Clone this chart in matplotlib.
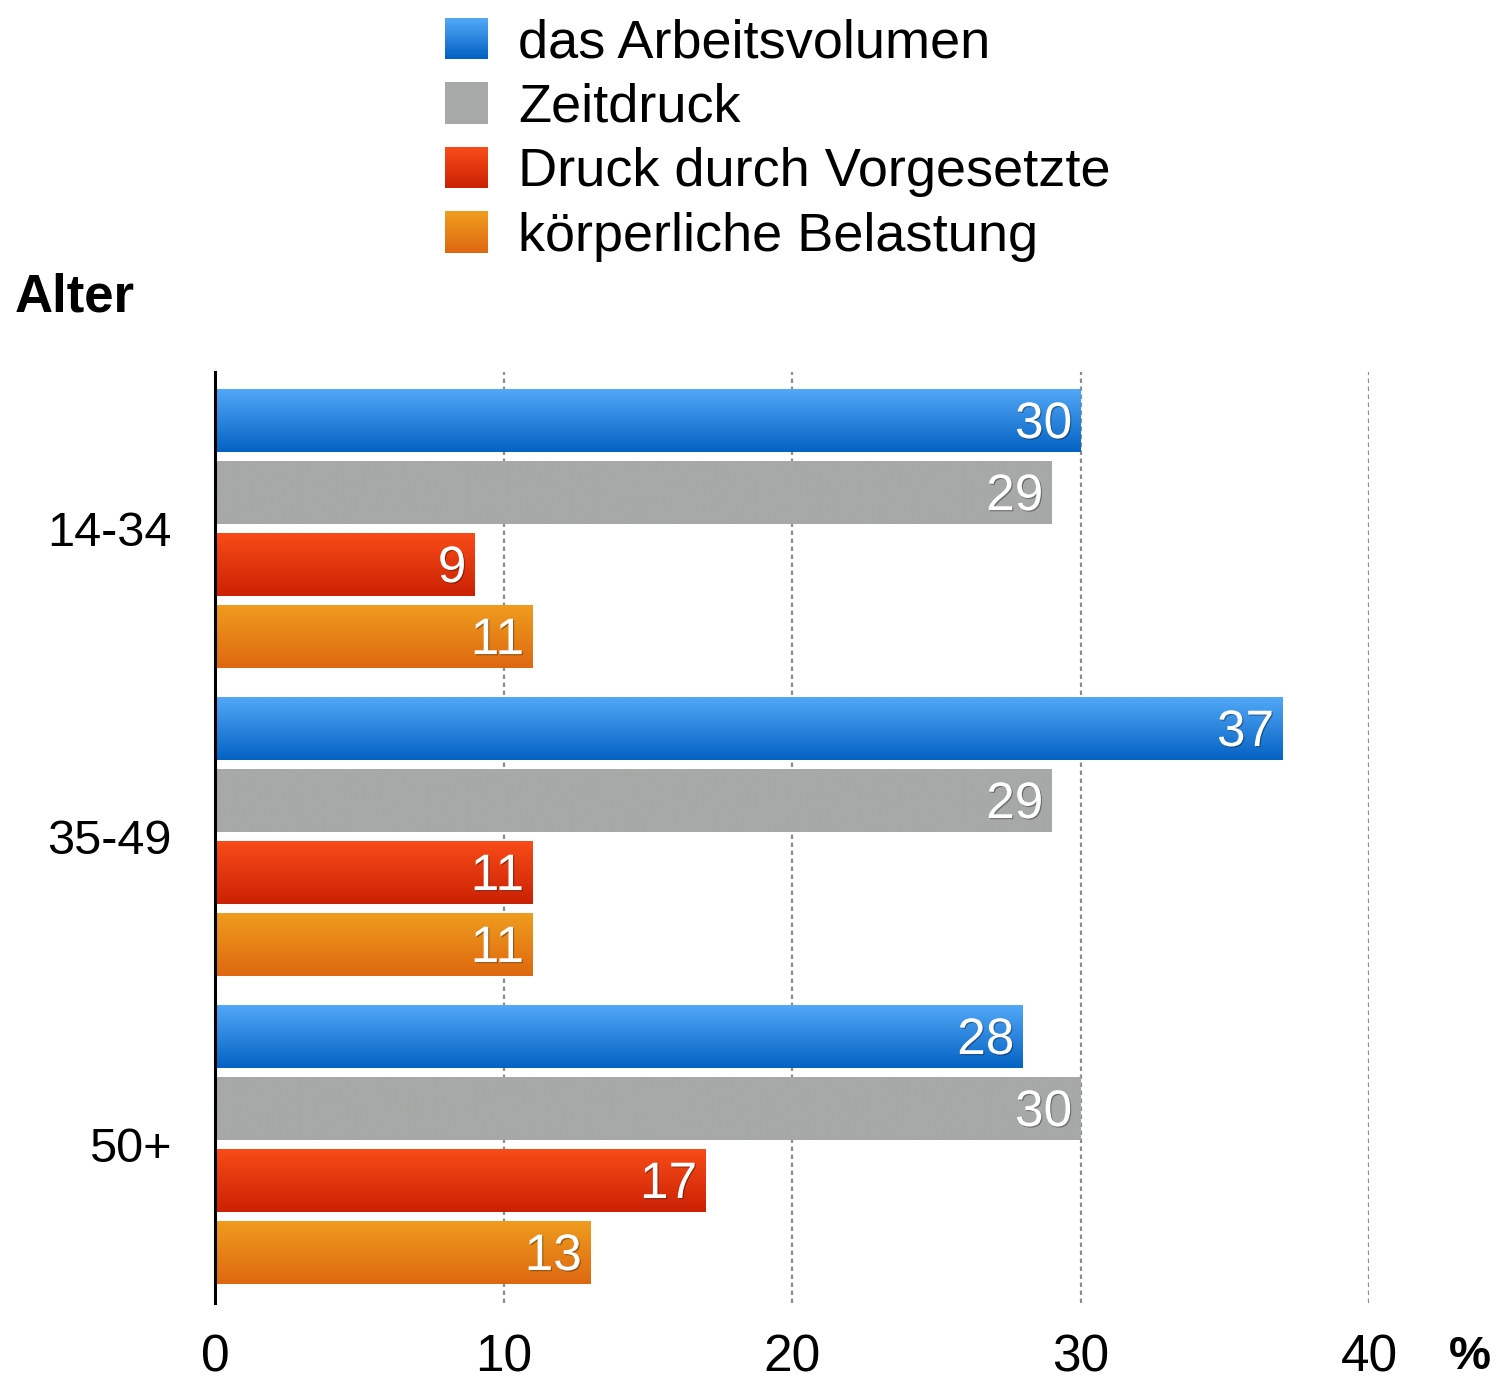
import numpy as np
import matplotlib
matplotlib.use("Agg")
import matplotlib.pyplot as plt
from matplotlib.colors import LinearSegmentedColormap
from matplotlib.patches import Rectangle
from matplotlib.legend_handler import HandlerBase
import matplotlib.patheffects as pe

plt.rcParams['font.family'] = ['Liberation Sans', 'DejaVu Sans']

categories = ["14-34", "35-49", "50+"]
series = ["das Arbeitsvolumen", "Zeitdruck", "Druck durch Vorgesetzte", "körperliche Belastung"]
values_arbeitsvolumen = [30, 37, 28]
values_zeitdruck = [29, 29, 30]
values_vorgesetzte = [9, 11, 17]
values_koerperlich = [11, 11, 13]
xticks = [0, 10, 20, 30, 40]

all_values = [values_arbeitsvolumen, values_zeitdruck, values_vorgesetzte, values_koerperlich]
grad_colors = [("#52a8f7", "#0462c3"), ("#a6a9a7", "#a6a9a7"),
               ("#f94c19", "#ca2104"), ("#ef9c1e", "#de6810")]

W, H = 1499, 1385
fig = plt.figure(figsize=(W / 100, H / 100), dpi=100)
ax = fig.add_axes([215 / W, 1 - 1303 / H, (1369 - 215) / W, (1303 - 372) / H])

pitch = 0.2338
height = 0.2045
offsets = [-1.5, -0.5, 0.5, 1.5]
ypos = np.arange(len(categories))

grad = np.linspace(0, 1, 256).reshape(-1, 1)
for i, (vals, (ctop, cbot)) in enumerate(zip(all_values, grad_colors)):
    y = ypos + offsets[i] * pitch
    bars = ax.barh(y, vals, height=height, color=cbot, zorder=3, linewidth=0)
    cmap = LinearSegmentedColormap.from_list(f"g{i}", [ctop, cbot])
    for b, v in zip(bars, vals):
        x0, yb, w, h = b.get_x(), b.get_y(), b.get_width(), b.get_height()
        im = ax.imshow(grad, extent=[x0, x0 + w, yb + h, yb], cmap=cmap,
                       aspect='auto', zorder=3.5, interpolation='bilinear')
        im.set_clip_path(b)
        t = ax.annotate(str(v), xy=(v, b.get_y() + h / 2), xytext=(-6, -3),
                        textcoords='offset points', ha='right', va='center',
                        color='white', fontsize=37, zorder=5)
        t.set_path_effects([pe.withSimplePatchShadow(offset=(0.8, -0.8), alpha=0.35, shadow_rgbFace='black')])

ax.set_xlim(0, 40)
ax.set_ylim(2.515, -0.508)

# grid
for xv in xticks[1:]:
    ax.axvline(xv, color='#8c8c8c', lw=1.6, linestyle=(0, (2, 1.6)), zorder=1)

for s in ['top', 'right', 'bottom']:
    ax.spines[s].set_visible(False)
ax.spines['left'].set_linewidth(2.2)
ax.spines['left'].set_color('black')
ax.spines['left'].set_zorder(6)

ax.set_xticks(xticks)
ax.set_xticklabels([str(x) for x in xticks])
ax.set_yticks(ypos)
ax.set_yticklabels(categories)
ax.tick_params(axis='x', length=0, pad=22, labelsize=37)
ax.tick_params(axis='y', length=0, pad=31, labelsize=35)

ax.text(1470 / W, 1 - 1357 / H, "%", transform=fig.transFigure, fontsize=34,
        fontweight='bold', ha='center', va='center')
fig.text(15 / W, 1 - 297 / H, "Alter", fontsize=38, fontweight='bold',
         ha='left', va='center')


class GradHandler(HandlerBase):
    def __init__(self, ctop, cbot):
        super().__init__()
        self.ctop, self.cbot = ctop, cbot

    def create_artists(self, legend, orig_handle, xdescent, ydescent, width,
                       height, fontsize, trans):
        cm = LinearSegmentedColormap.from_list("lg", [self.ctop, self.cbot])
        n = 24
        arts = []
        for k in range(n):
            yb = -ydescent + height * (1 - (k + 1) / n)
            r = Rectangle((-xdescent, yb), width, height / n + 0.3,
                          facecolor=cm(k / (n - 1)), edgecolor='none',
                          transform=trans)
            arts.append(r)
        return arts


handles = [Rectangle((0, 0), 1, 1) for _ in series]
hmap = {h: GradHandler(*c) for h, c in zip(handles, grad_colors)}
lfs = 39
fs = lfs * 100 / 72
fig.legend(handles, series, handler_map=hmap, loc='upper left',
           bbox_to_anchor=(445 / W, 1 - 18 / H), frameon=False, fontsize=lfs,
           handlelength=43 / fs, handleheight=43 / fs, handletextpad=30 / fs,
           labelspacing=0.26, borderpad=0, borderaxespad=0)

fig.savefig("out.png", dpi=100)
